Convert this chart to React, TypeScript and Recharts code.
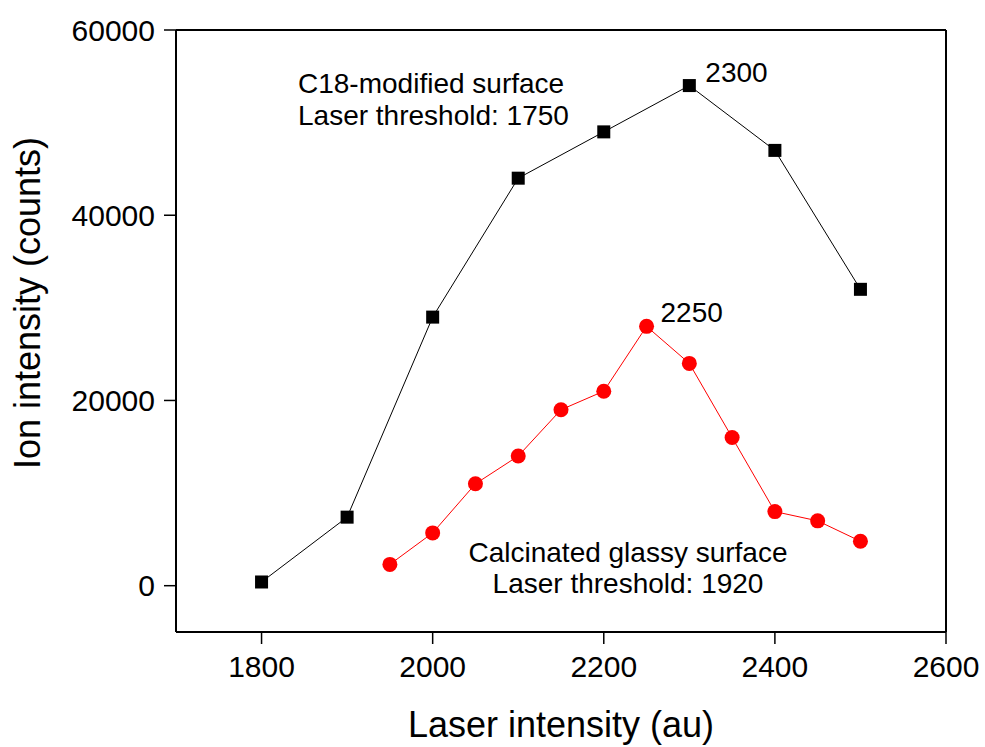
import { LineChart, Line, XAxis, YAxis, LabelList, Customized, ReferenceLine } from 'recharts';

const FONT = '"Liberation Sans", Arial, Helvetica, sans-serif';

// C18-modified surface
const c18X = [1800, 1900, 2000, 2100, 2200, 2300, 2400, 2500];
const c18Y = [400, 7400, 29000, 44000, 49000, 54000, 47000, 32000];

// Calcinated glassy surface
const glassX = [1950, 2000, 2050, 2100, 2150, 2200, 2250, 2300, 2350, 2400, 2450, 2500];
const glassY = [2300, 5700, 11000, 14000, 19000, 21000, 28000, 24000, 16000, 8000, 7000, 4800];

const xTicks = [1800, 2000, 2200, 2400, 2600];
const yTicks = [0, 20000, 40000, 60000];

const c18Data = c18X.map((x, i) => ({ x, y: c18Y[i] }));
const glassData = glassX.map((x, i) => ({ x, y: glassY[i] }));

const SquareDot = (props: any) => {
  const { cx, cy, index } = props;
  if (cx == null || cy == null) return null;
  return <rect key={index} x={cx - 6.5} y={cy - 6.5} width={13} height={13} fill="#000" />;
};

const CircleDot = (props: any) => {
  const { cx, cy, index } = props;
  if (cx == null || cy == null) return null;
  return <circle key={index} cx={cx} cy={cy} r={7.5} fill="#ff0000" />;
};

// label only the peak point
const peakLabel = (peakX: number, xs: number[], dx: number) => (props: any) => {
  const { x, y, index } = props;
  if (xs[index] !== peakX) return null;
  return (
    <text x={x + dx} y={y - 4} fontSize={28} fontFamily={FONT} fill="#000">
      {peakX}
    </text>
  );
};

const Annotations = () => (
  <g fontFamily={FONT} fill="#000">
    <text x={298} y={93} fontSize={28}>C18-modified surface</text>
    <text x={298} y={125} fontSize={28}>Laser threshold: 1750</text>
    <text x={628} y={562} fontSize={28} textAnchor="middle">Calcinated glassy surface</text>
    <text x={628} y={593} fontSize={28} textAnchor="middle">Laser threshold: 1920</text>
    <text x={561} y={737} fontSize={36} textAnchor="middle">Laser intensity (au)</text>
    <text
      x={40}
      y={303}
      fontSize={36}
      textAnchor="middle"
      transform="rotate(-90, 40, 303)"
    >
      Ion intensity (counts)
    </text>
  </g>
);

export default function App() {
  const tickStyle = { fontSize: 30, fontFamily: FONT, fill: '#000' };
  return (
    <div style={{ position: 'absolute', left: 0, top: 0, width: 985, height: 747, background: '#fff' }}>
      <LineChart width={985} height={747} margin={{ top: 30, right: 39, bottom: 0, left: 0 }}>
        <XAxis
          dataKey="x"
          type="number"
          domain={[1700, 2600]}
          ticks={xTicks}
          height={115}
          tickSize={12}
          tickMargin={12}
          tick={tickStyle}
          axisLine={{ stroke: '#000', strokeWidth: 2 }}
          tickLine={{ stroke: '#000', strokeWidth: 1.5 }}
          allowDataOverflow
        />
        <YAxis
          type="number"
          domain={[-5000, 60000]}
          ticks={yTicks}
          width={176}
          tickSize={12}
          tickMargin={9}
          tick={tickStyle}
          axisLine={{ stroke: '#000', strokeWidth: 2 }}
          tickLine={{ stroke: '#000', strokeWidth: 1.5 }}
          allowDataOverflow
        />
        {/* frame: top and right borders */}
        <ReferenceLine y={60000} stroke="#000" strokeWidth={2} ifOverflow="visible" />
        <ReferenceLine x={2600} stroke="#000" strokeWidth={2} ifOverflow="visible" />
        <Line
          data={c18Data}
          dataKey="y"
          stroke="#000"
          strokeWidth={1}
          dot={SquareDot}
          activeDot={false}
          isAnimationActive={false}
        >
          <LabelList dataKey="y" content={peakLabel(2300, c18X, 16)} />
        </Line>
        <Line
          data={glassData}
          dataKey="y"
          stroke="#ff0000"
          strokeWidth={1}
          dot={CircleDot}
          activeDot={false}
          isAnimationActive={false}
        >
          <LabelList dataKey="y" content={peakLabel(2250, glassX, 14)} />
        </Line>
        <Customized component={Annotations} />
      </LineChart>
    </div>
  );
}
